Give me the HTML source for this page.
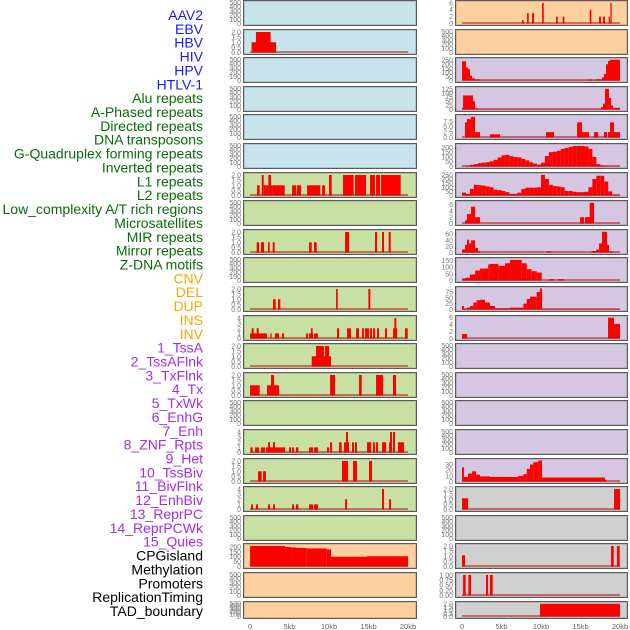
<!DOCTYPE html>
<html><head><meta charset="utf-8"><style>
html,body{margin:0;padding:0;background:#fff;}
svg{display:block;font-family:"Liberation Sans",sans-serif;}
</style></head><body>
<svg id="chart" width="630" height="630" viewBox="0 0 630 630"></svg>
<script>
// ---- labels ----
const labels=["AAV2","EBV","HBV","HIV","HPV","HTLV-1","Alu repeats","A-Phased repeats","Directed repeats","DNA transposons","G-Quadruplex forming repeats","Inverted repeats","L1 repeats","L2 repeats","Low_complexity A/T rich regions","Microsatellites","MIR repeats","Mirror repeats","Z-DNA motifs","CNV","DEL","DUP","INS","INV","1_TssA","2_TssAFlnk","3_TxFlnk","4_Tx","5_TxWk","6_EnhG","7_Enh","8_ZNF_Rpts","9_Het","10_TssBiv","11_BivFlnk","12_EnhBiv","13_ReprPC","14_ReprPCWk","15_Quies","CPGisland","Methylation","Promoters","ReplicationTiming","TAD_boundary"];
const labelGroups=[0,0,0,0,0,0,1,1,1,1,1,1,1,1,1,1,1,1,1,2,2,2,2,2,3,3,3,3,3,3,3,3,3,3,3,3,3,3,3,4,4,4,4,4];
const xTickLabels=["0","5kb","10kb","15kb","20kb"];
const xTickValues=[0,5,10,15,20];
const emptyTicks=[0,100,200,300,400,500];

// ---- panel data: segments [startKb,endKb,value] ----
const L1=[[0.2,3.3,1],[0.75,2.6,2]];
const L6=[[0.89,1.22,1],[1.48,1.73,2],[1.73,2.07,1],[2.07,2.32,1],[2.32,2.66,2],[2.66,2.87,1],[2.87,4.39,1],[5.32,5.82,1],[5.91,6.46,1],[7.22,8.9,1],[9.12,9.49,1],[10.0,10.34,2],[11.77,13.12,2],[13.29,14.68,2],[15.19,15.82,2],[15.95,16.46,2],[16.58,19.07,2]];
const L8=[[0.84,1.14,1],[1.39,1.77,1],[2.28,2.49,1],[2.87,3.12,1],[7.47,7.81,1],[8.1,8.44,1],[12.03,12.53,2],[15.82,16.08,2],[16.71,16.96,2],[17.55,17.81,2]];
const L10=[[2.91,3.25,1],[3.54,3.84,1],[10.89,11.1,2],[14.98,15.23,2]];
const L11=[[0,2.15,1],[0.21,0.46,2],[0.84,1.1,2],[2.57,2.74,1],[3.16,3.67,1],[4.05,4.3,1],[7.09,7.34,1],[7.47,7.97,1],[7.72,7.93,2],[8.1,8.6,1],[11.01,11.27,2],[12.28,12.78,2],[13.42,13.8,2],[14.18,14.43,2],[14.56,15.06,2],[15.19,15.44,2],[15.57,15.82,2],[16.08,16.33,2],[17.09,17.34,2],[18.1,18.61,2],[18.27,18.52,4],[19.62,19.96,2]];
const L12=[[7.81,10.25,1],[8.35,9.37,2],[9.49,10.0,2]];
const L13=[[0,1.22,1],[2.15,3.67,1],[2.66,3.04,2],[10.13,10.76,2],[13.8,14.14,2],[15.95,16.84,2],[18.1,18.48,2]];
const L15=[[0.04,0.34,1],[0.63,1.14,1],[1.39,1.9,1],[2.02,4.43,1],[2.28,2.53,2],[2.91,3.16,2],[4.94,5.19,1],[5.32,5.57,1],[5.82,6.12,1],[7.47,7.97,1],[8.1,8.6,1],[9.75,10.0,1],[10.13,10.38,2],[11.27,11.6,2],[11.9,12.53,2],[12.15,12.4,4],[12.91,13.16,2],[13.29,13.54,2],[14.81,15.32,2],[15.57,15.82,2],[15.95,16.2,2],[16.71,17.22,2],[17.6,17.85,2],[17.72,17.97,4],[18.1,18.35,4],[18.73,19.49,2]];
const L16=[[1.01,1.48,1],[1.65,2.02,1],[11.64,12.4,2],[13.04,13.54,2],[15.06,15.44,2]];
const L17=[[0.13,0.38,1],[0.76,1.01,1],[2.28,2.53,1],[2.91,3.16,1],[5.32,5.57,1],[5.82,6.12,1],[7.47,7.97,1],[8.1,8.6,1],[12.03,12.28,2],[16.71,16.96,4],[17.6,17.85,2]];
const L19=[[0,4.43,210],[4.43,5.19,200],[5.19,5.82,195],[5.82,7.17,190],[7.17,9.71,185],[9.71,10.25,175],[10.25,14.81,100],[14.81,20,105]];
const R0=[[7.59,7.8,1],[8.23,8.44,3],[8.86,9.11,3],[10.13,10.34,6],[11.9,12.11,2],[12.74,12.95,2],[16.16,16.37,4],[17.34,17.59,2],[17.85,18.1,2],[18.57,18.73,2],[18.78,18.94,6]];
const R2=[[0,0.51,235],[0.51,0.76,160],[0.76,1.01,140],[1.01,1.27,60],[1.27,1.65,25],[1.65,2.28,10],[2.28,15.78,2],[15.78,16.46,10],[16.46,16.96,4],[16.96,17.72,15],[17.72,17.97,40],[17.97,18.23,80],[18.23,18.48,200],[18.48,18.73,240],[18.73,20,255]];
const R3=[[0,0.13,10],[0.13,1.39,85],[1.39,1.65,50],[1.65,2.03,5],[2.03,17.59,1],[17.59,17.85,15],[17.85,18.1,35],[18.1,18.6,125],[18.6,18.86,70],[18.86,19.11,25],[19.11,20,10]];
const R4=[[0.38,0.63,7],[0.63,1.14,8.5],[1.14,1.65,9.5],[1.65,2.28,2.5],[3.54,4.81,1.5],[10.63,11.65,2.5],[14.56,15.19,7],[15.19,16.08,2.5],[16.71,17.22,2.5],[17.97,18.35,2.5],[18.48,18.73,2.5],[18.73,19.24,7],[19.24,20,2.5]];
const R5bins=[0,8,18,25,35,40,45,55,70,95,118,122,108,100,95,80,65,45,30,20,40,110,150,155,165,185,195,205,215,215,215,210,185,100,25,10,5,2,2,2];
const R6bins=[35,20,80,130,125,120,110,100,70,65,55,40,20,20,35,80,95,95,95,100,250,200,130,115,110,100,55,55,45,40,40,45,100,200,240,240,170,50,8,8];
const R7=[[0.38,0.63,1],[0.63,1.14,3],[1.14,1.65,5.3],[1.65,2.28,2],[14.94,15.45,2],[15.57,16.71,2],[16.16,16.71,6.5]];
const R8=[[0,0.38,10],[0.38,0.63,25],[0.63,0.89,42],[0.89,1.14,30],[1.14,1.65,40],[1.65,2.03,15],[2.03,2.28,4],[10.7,11.3,4],[16.4,17.0,5],[17.0,17.35,10],[17.35,17.72,30],[17.72,18.35,68],[18.35,18.6,25],[18.6,19.1,3]];
const R9=[[0,0.38,15],[0.38,1.0,20],[1.0,1.65,45],[1.65,2.28,75],[2.28,3.3,90],[3.3,3.5,120],[3.5,4.6,125],[4.6,5.44,110],[5.44,6.08,130],[6.08,7.55,155],[7.55,8.19,130],[8.19,8.82,85],[8.82,9.45,70],[9.45,10.08,60],[11.0,11.65,10],[12.15,12.9,10]];
const R10=[[0,0.25,15],[0.25,0.64,2],[0.64,1.0,8],[1.0,1.43,15],[1.43,1.86,30],[1.86,2.28,40],[2.28,2.91,42],[2.91,3.54,30],[3.54,4.18,15],[4.18,6.08,5],[6.08,7.76,8],[7.76,8.19,25],[8.19,8.61,45],[8.61,9.45,55],[9.45,9.87,75],[9.87,10.13,90],[10.13,19.8,2]];
const R11=[[0,0.64,1.3],[18.48,19.24,6],[19.24,20,4.2]];
const R16=[[0,0.25,25],[0.25,0.76,8],[0.76,1.27,14],[1.27,1.77,18],[1.77,2.28,12],[2.28,3.54,9],[3.54,7.1,8],[7.1,7.76,10],[7.76,8.19,13],[8.19,8.6,22],[8.6,9.03,30],[9.03,9.66,34],[9.66,10.13,37],[10.13,18.1,7],[18.1,18.3,3]];
const R17=[[0,0.76,1.1],[19.24,20,2]];
const R19=[[0,0.38,1.1],[18.86,19.2,2],[19.6,19.96,2]];
const R20=[[0.13,0.46,1],[0.8,1.14,1],[3.04,3.29,1],[3.54,3.88,1]];
const R21=[[9.87,20,2]];

function binsToSegs(b){return b.map((v,i)=>[i*0.5,i*0.5+0.5,v]);}
const B={blue:"#c7e3ec",green:"#c9e0a3",orange:"#fed09f",purple:"#d5c6e2",gray:"#d0d0d0"};
// panel definitions: [segs, ymax, ticks, bg]
const left=[
 [null,0,emptyTicks,B.blue],[L1,2.05,[0,0.5,1,1.5,2],B.blue],[null,0,emptyTicks,B.blue],[null,0,emptyTicks,B.blue],[null,0,emptyTicks,B.blue],[null,0,emptyTicks,B.blue],
 [L6,2.05,[0,0.5,1,1.5,2],B.green],[null,0,emptyTicks,B.green],[L8,2.05,[0,0.5,1,1.5,2],B.green],[null,0,emptyTicks,B.green],[L10,2.05,[0,0.5,1,1.5,2],B.green],[L11,4.1,[0,1,2,3,4],B.green],[L12,2.05,[0,0.5,1,1.5,2],B.green],[L13,2.05,[0,0.5,1,1.5,2],B.green],[null,0,emptyTicks,B.green],[L15,4.1,[0,1,2,3,4],B.green],[L16,2.05,[0,0.5,1,1.5,2],B.green],[L17,4.1,[0,1,2,3,4],B.green],[null,0,emptyTicks,B.green],
 [L19,215,[0,50,100,150,200],B.orange],[null,0,emptyTicks,B.orange],[null,0,emptyTicks,B.orange]];
const right=[
 [R0,6.1,[0,2,4,6],B.orange],[null,0,emptyTicks,B.orange],
 [R2,258,[0,50,100,150,200,250],B.purple],[R3,127,[0,25,50,75,100,125],B.purple],[R4,9.7,[0,2.5,5,7.5],B.purple],[binsToSegs(R5bins),220,[0,50,100,150,200],B.purple],[binsToSegs(R6bins),255,[0,50,100,150,200,250],B.purple],[R7,6.6,[0,2,4,6],B.purple],[R8,69,[0,20,40,60],B.purple],[R9,158,[0,50,100,150],B.purple],[R10,90,[0,25,50,75],B.purple],[R11,6.05,[0,2,4,6],B.purple],[null,0,emptyTicks,B.purple],[null,0,emptyTicks,B.purple],[null,0,emptyTicks,B.purple],[null,0,emptyTicks,B.purple],[R16,37,[0,10,20,30],B.purple],
 [R17,2.05,[0,0.5,1,1.5,2],B.gray],[null,0,emptyTicks,B.gray],[R19,2.05,[0,0.5,1,1.5,2],B.gray],[R20,1.02,[0,0.25,0.5,0.75,1],B.gray],[R21,2.05,[0,0.5,1,1.5,2],B.gray]];

const NS="http://www.w3.org/2000/svg";
const svg=document.getElementById('chart');
function mk(tag,attrs,parent){const e=document.createElementNS(NS,tag);for(const k in attrs)e.setAttribute(k,attrs[k]);(parent||svg).appendChild(e);return e;}
const groupColors=["#1a1aef","#0b6b0b","#ffa500","#a32ee8","#000000"];

labels.forEach((t,k)=>{
 const el=mk('text',{x:203,y:20+k*13.86,'text-anchor':'end','font-size':14,fill:groupColors[labelGroups[k]]});
 el.textContent=t;
 
 
});

function fmt(v,ticks){const dec=ticks.some(t=>t%1!==0)?(ticks.some(t=>(t*10)%1!==0)?2:1):0;return v.toFixed(dec);}
function drawCol(panels,x0,x1,kb0,col){
 const xs=kb=>x0+(kb-kb0)*7.9;
 panels.forEach((p,i)=>{
  const top=Math.round(i*28.6)+0.5,h=(i===21)?17:25;
  const g=mk('g',{});
  
  
  const r=mk('rect',{x:x0+0.5,y:top,width:x1-x0,height:h,fill:p[3],stroke:'#5a5a5a','stroke-width':1},g);
  
  
  mk('rect',{x:x0+1.5,y:top+1,width:x1-x0-2,height:h-2,fill:'none',stroke:'rgba(0,0,0,0.12)','stroke-width':1},g);
  const ymax=p[1]||500, ticks=p[2];
  const yb=top+h-2, ys=v=>yb-v/ymax*(h-4);
  ticks.forEach(t=>{
   const tl=mk('text',{x:x0-2,y:ys(t)+2.5,'text-anchor':'end','font-size':7,fill:'#777'},g);
   tl.textContent=p[0]?fmt(t,ticks):String(t);
   
   
  });
  if(p[0]){
   const segs=p[0].slice().sort((a,b)=>b[2]-a[2]);
   segs.forEach(s=>{
    const b=mk('rect',{x:xs(s[0]),y:ys(s[2]),width:Math.max(xs(s[1])-xs(s[0]),1),height:yb-ys(s[2]),fill:'#ff0000'},g);
    
    
   });
   const bl=mk('line',{x1:xs(0),x2:xs(20),y1:yb-0.5,y2:yb-0.5,stroke:'rgba(190,20,20,0.55)','stroke-width':2},g);
   
   
  }
 });
 xTickValues.forEach((v,j)=>{
  const t=mk('text',{x:xs(v),y:629,'text-anchor':'middle','font-size':7.5,fill:'#666'});
  t.textContent=xTickLabels[j];
  
  
 });
}
drawCol(left,243,416,0-0.89,'left');
function drawColR(){drawCol(right,455,627,0-0.89,'right');}
drawColR();
</script>
</body></html>
